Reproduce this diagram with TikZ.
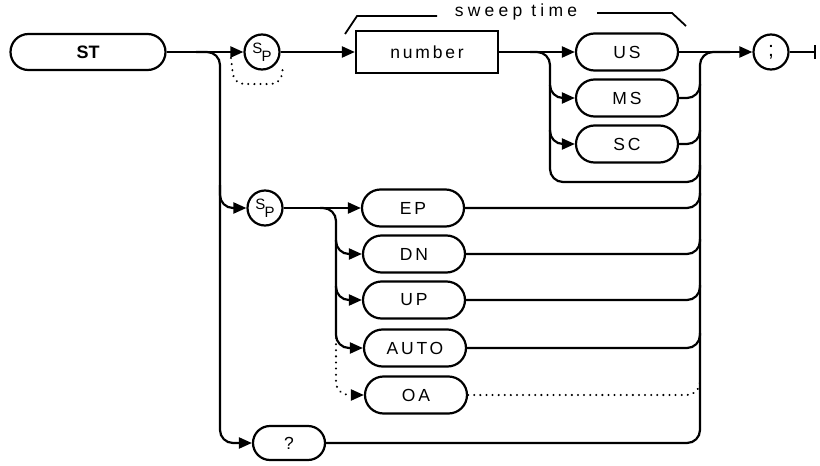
\documentclass[tikz,border=0pt]{standalone}
\usepackage{fontspec}
\setmainfont{Liberation Sans}
\newfontfamily\lblfont[LetterSpace=16]{Liberation Sans}
\newfontfamily\swfont[LetterSpace=24]{Liberation Sans}
\usetikzlibrary{arrows.meta,shapes.misc}
\begin{document}
\begin{tikzpicture}[x=1pt,y=-1pt,line width=2.2pt,
  kw/.style={draw,rounded rectangle,minimum width=102pt,minimum height=37pt,inner sep=0pt,
    font=\lblfont\fontsize{17.5}{20}\selectfont},
  spc/.style={draw,circle,minimum size=35pt,inner sep=0pt,font=\lblfont\fontsize{15}{15}\selectfont},
  flow/.style={-{Triangle[length=13pt,width=11pt]}},
  dots/.style={line width=2.2pt,line cap=round,dash pattern=on 0.1pt off 6pt},
  rc/.style={rounded corners=13pt}]
\useasboundingbox (0,0) rectangle (820,466);
% nodes
\node[draw,rounded rectangle,minimum width=155pt,minimum height=36pt,inner sep=0pt,
  font=\bfseries\fontsize{18}{20}\selectfont] (st) at (88,52) {ST};
\node[spc] (sp1) at (262,52) {\raisebox{3pt}{S}\kern-1pt\raisebox{-5pt}{P}};
\node[draw,rectangle,minimum width=142pt,minimum height=42pt,inner sep=0pt,
  font=\lblfont\fontsize{17.5}{20}\selectfont] (num) at (427,52) {number};
\node[font=\swfont\fontsize{17.5}{20}\selectfont] (sw) at (516,12) {sweep time};
\node[kw] (us) at (627,52) {US};
\node[kw] (ms) at (627,98) {MS};
\node[kw] (sc) at (627,144) {SC};
\node[spc,font=\fontsize{21}{21}\selectfont] (semi) at (771,52) {;};
\coordinate (endp) at (815,52);
\node[spc] (sp2) at (265,208) {\raisebox{3pt}{S}\kern-1pt\raisebox{-5pt}{P}};
\node[kw] (ep) at (413,208) {EP};
\node[kw] (dn) at (414,254) {DN};
\node[kw] (up) at (414,300) {UP};
\node[kw] (auto) at (415,348) {AUTO};
\node[kw] (oa) at (416,395) {OA};
\node[kw,minimum width=72pt,minimum height=34pt] (q) at (289,443) {?};
% sweep time bracket
\draw[line width=1.8pt] (345,34) -- (357,16) -- (437,16);
\draw[line width=1.8pt] (597,13) -- (672,13) -- (686,26);
% main line
\draw[flow] (st.east) -- (sp1.west);
\draw[flow] (sp1.east) -- (num.west);
\draw[flow] (num.east) -- (us.west);
\draw[flow] (us.east) -- (semi.west);
\draw (semi.east) -- (endp);
\draw (endp) ++(0,-7) -- ++(0,14);
% optional space bypass
\draw[dots,rounded corners=10pt] (231,58) -- (234,84) -- (281,84) -- (283,66);
% left branch to ? and Sp2
\draw[flow,rc] (196,52) -- (220,52) -- (220,443) -- (q.west);
\draw[flow,rc] (220,185) -- (220,208) -- (sp2.west);
% units branch
\draw[flow,rc] (530,52) -- (550,52) -- (550,98) -- (ms.west);
\draw[flow,rc] (550,85) -- (550,144) -- (sc.west);
\draw[rc] (550,130) -- (550,182) -- (700,182) -- (700,165);
% Sp2 branch
\draw[flow] (sp2.east) -- (ep.west);
\draw[flow,rc] (320,208) -- (336,208) -- (336,254) -- (dn.west);
\draw[flow,rc] (336,240) -- (336,300) -- (up.west);
\draw[flow,rc] (336,286) -- (336,348) -- (auto.west);
\draw[flow,dots,rounded corners=13pt] (336,338) -- (336,395) -- (oa.west);
% collector
\draw[rc] (q.east) -- (700,443) -- (700,52) -- (730,52);
\draw[rc] (ms.east) -- (700,98) -- (700,84);
\draw[rc] (sc.east) -- (700,144) -- (700,130);
\draw[rc] (ep.east) -- (700,208) -- (700,193);
\draw[rc] (dn.east) -- (700,254) -- (700,239);
\draw[rc] (up.east) -- (700,300) -- (700,285);
\draw[rc] (auto.east) -- (700,348) -- (700,333);
\draw[dots,rounded corners=13pt] (oa.east) -- (700,395) -- (700,380);
\end{tikzpicture}
\end{document}
